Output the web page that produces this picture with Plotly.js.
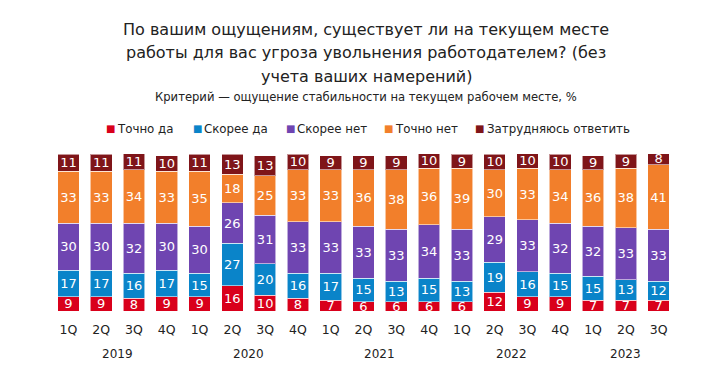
<!DOCTYPE html>
<html>
<head>
<meta charset="utf-8">
<script src="https://cdn.plot.ly/plotly-3.0.1.min.js"></script>
<style>html,body{margin:0;padding:0;background:#fff;}#chart{width:702px;height:380px;}</style>
</head>
<body>
<div id="chart"></div>
<script>
const quarters = ["1Q","2Q","3Q","4Q","1Q","2Q","3Q","4Q","1Q","2Q","3Q","4Q","1Q","2Q","3Q","4Q","1Q","2Q","3Q"];
const years = ["2019","2020","2021","2022","2023"];
const yearCenters = [1.5, 5.5, 9.5, 13.5, 17];
const seriesNames = ["Точно да","Скорее да","Скорее нет","Точно нет","Затрудняюсь ответить"];
const tochnoDa    = [9,9,8,9,9,16,10,8,7,6,6,6,6,12,9,9,7,7,7];
const skoreeDa    = [17,17,16,17,15,27,20,16,17,15,13,15,13,19,16,15,15,13,12];
const skoreeNet   = [30,30,32,30,30,26,31,33,33,33,33,34,33,29,33,32,32,33,33];
const tochnoNet   = [33,33,34,33,35,18,25,33,33,36,38,36,39,30,33,34,36,38,41];
const zatrudnyayus= [11,11,11,10,11,13,13,10,9,9,9,10,9,10,10,10,9,9,8];
const colors = ["#d9001b","#0a84c9","#6f45b1","#f27f2b","#7f1519"];
const titleLines = ["По вашим ощущениям, существует ли на текущем месте",
                    "работы для вас угроза увольнения работодателем? (без",
                    "учета ваших намерений)"];
const subtitle = "Критерий — ощущение стабильности на текущем рабочем месте, %";

const FONT = "DejaVu Sans, Verdana, sans-serif";
const W = 702, H = 380, ML = 52, MR = 27, MT = 154, MB = 69;
const plotW = W - ML - MR, plotH = H - MT - MB;
const px2x = p => (p - ML) / plotW;
const py2y = p => (H - MB - p) / plotH;

const xIdx = quarters.map((_, i) => i);
const allSeries = [tochnoDa, skoreeDa, skoreeNet, tochnoNet, zatrudnyayus];

const traces = allSeries.map((vals, k) => ({
  type: "bar",
  name: seriesNames[k],
  x: xIdx,
  y: vals,
  text: vals.map(String),
  textposition: "inside",
  insidetextanchor: "middle",
  constraintext: "none",
  textangle: 0,
  textfont: {family: FONT, size: 13, color: "#ffffff"},
  marker: {color: colors[k], line: {color: "rgba(255,255,255,0.55)", width: 1}},
  hoverinfo: "none",
  showlegend: false
}));

const annotations = [];
const titleY = [30, 53, 76];
titleLines.forEach((t, i) => annotations.push({
  text: t, xref: "paper", yref: "paper", x: px2x(366), y: py2y(titleY[i]),
  xanchor: "center", yanchor: "middle", showarrow: false,
  font: {family: FONT, size: 16, color: "#222"}
}));
annotations.push({text: subtitle, xref: "paper", yref: "paper", x: px2x(366), y: py2y(97),
  xanchor: "center", yanchor: "middle", showarrow: false,
  font: {family: FONT, size: 11.6, color: "#222"}});

// legend (square + label), positioned like the reference
const legSquareX = [110, 197.5, 290.5, 388, 479.5];
const legTextX = [115, 202, 295, 393, 485];
seriesNames.forEach((name, k) => {
  annotations.push({text: "■", xref: "paper", yref: "paper", x: px2x(legSquareX[k]), y: py2y(128.5),
    xanchor: "center", yanchor: "middle", showarrow: false,
    font: {family: FONT, size: 10, color: colors[k]}});
  annotations.push({text: name, xref: "paper", yref: "paper", x: px2x(legTextX[k]), y: py2y(128.5),
    xanchor: "left", yanchor: "middle", showarrow: false,
    font: {family: FONT, size: 11.8, color: "#222"}});
});

years.forEach((yr, i) => annotations.push({
  text: yr, xref: "x", yref: "paper", x: yearCenters[i], y: py2y(354),
  xanchor: "center", yanchor: "middle", showarrow: false,
  font: {family: FONT, size: 12, color: "#222"}
}));

const layout = {
  width: W, height: H,
  margin: {l: ML, r: MR, t: MT, b: MB},
  paper_bgcolor: "#fff", plot_bgcolor: "#fff",
  barmode: "stack", bargap: 0.34,
  showlegend: false,
  xaxis: {range: [-0.5, 18.5], tickvals: xIdx, ticktext: quarters, showgrid: false, zeroline: false,
          showline: false, ticks: "", ticklabelstandoff: 9,
          tickfont: {family: FONT, size: 12.5, color: "#222"}, fixedrange: true},
  yaxis: {range: [0, 100], visible: false, fixedrange: true},
  annotations: annotations
};

Plotly.newPlot("chart", traces, layout, {displayModeBar: false, staticPlot: true});
</script>
</body>
</html>
